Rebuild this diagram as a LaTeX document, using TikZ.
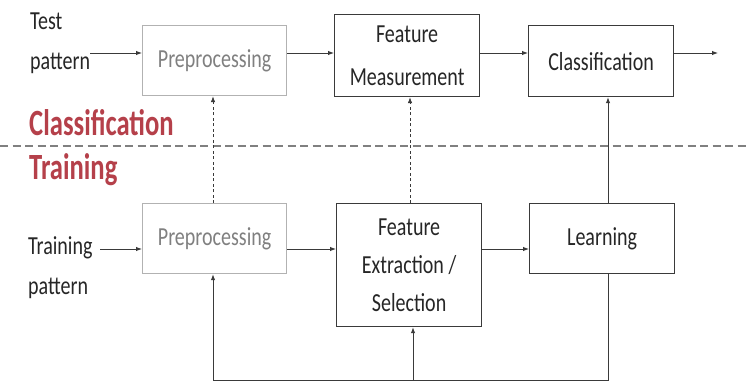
\documentclass[tikz,border=0pt]{standalone}
\usepackage{fontspec}
\setmainfont{Carlito}
\newfontfamily\nfont[FakeStretch=0.77]{Carlito}
\newfontfamily\rfont[FakeStretch=0.72]{Carlito}
\usetikzlibrary{arrows.meta}
\definecolor{lab}{HTML}{B5404A}
\definecolor{dark}{HTML}{3A3A3A}
\begin{document}
\begin{tikzpicture}[x=1pt,y=-1pt,
  box/.style={draw=dark,line width=1.2pt,inner sep=0pt,anchor=north west,align=center,text=black!85,font=\nfont\fontsize{26}{40}\selectfont},
  lbox/.style={box,draw=gray!60,text=gray},
  arr/.style={draw=dark,line width=1pt,-{Latex[length=6pt,width=4.5pt]}},
  darr/.style={arr,line width=0.7pt,dash pattern=on 3pt off 2.5pt},
  lbl/.style={font=\nfont\fontsize{26}{40}\selectfont,text=black!85,align=left,inner sep=0pt},
  red/.style={font=\rfont\bfseries\fontsize{37}{40}\selectfont,text=lab,anchor=west,inner sep=0pt}]
\useasboundingbox (0,0) rectangle (747,383);
\fill[white] (0,0) rectangle (747,383);
% top row
\node[lbox,minimum width=144pt,minimum height=70pt] (p1) at (142,25) {Preprocessing};
\node[box,minimum width=145pt,minimum height=82pt,font=\nfont\fontsize{26}{43}\selectfont] (fm) at (334,14) {Feature\\Measurement};
\node[box,minimum width=145pt,minimum height=71pt] (cl) at (528,25) {Classification};
\node[lbl,anchor=west] (tp) at (30,43) {Test\\pattern};
\coordinate (tpe) at (90,53);
\coordinate (out) at (718,53);
% bottom row
\node[lbox,minimum width=144pt,minimum height=70pt] (p2) at (142,203) {Preprocessing};
\node[box,minimum width=145pt,minimum height=123pt,font=\nfont\fontsize{26}{38}\selectfont] (fe) at (336,203) {Feature\\Extraction /\\Selection};
\node[box,minimum width=145pt,minimum height=70pt] (le) at (529,203) {Learning};
\node[lbl,anchor=west] (trp) at (28,268) {Training\\pattern};
\coordinate (trpe) at (100,249);
% labels
\node[red] (lc) at (29,123) {Classification};
\node[red] (lt) at (29,170) {Training};
\coordinate (dl) at (0,146);
\coordinate (dr) at (747,146);
\draw[gray,line width=1.5pt,dash pattern=on 8pt off 4.5pt] (dl) -- (dr);
% arrows top
\draw[arr] (tpe) -- (p1.west |- tpe);
\draw[arr] (p1.east |- 0,53) -- (fm.west |- 0,53);
\draw[arr] (fm.east |- 0,53) -- (cl.west |- 0,53);
\draw[arr] (cl.east |- 0,53) -- (out);
% arrows bottom
\draw[arr] (trpe) -- (p2.west |- trpe);
\draw[arr] (p2.east |- 0,249) -- (fe.west |- 0,249);
\draw[arr] (fe.east |- 0,249) -- (le.west |- 0,249);
% vertical
\draw[darr] (p2.north -| 213,0) -- (p1.south -| 213,0);
\draw[darr] (fe.north -| 410,0) -- (fm.south -| 410,0);
\draw[arr] (le.north -| 608,0) -- (cl.south -| 608,0);
% feedback
\coordinate (fb1) at (608,380);
\coordinate (fb2) at (213,380);
\coordinate (fb3) at (413,380);
\draw[arr] (le.south -| 608,0) -- (fb1) -- (fb2) -- (p2.south -| 213,0);
\draw[arr] (fb3) -- (fe.south -| 413,0);
\end{tikzpicture}
\end{document}
